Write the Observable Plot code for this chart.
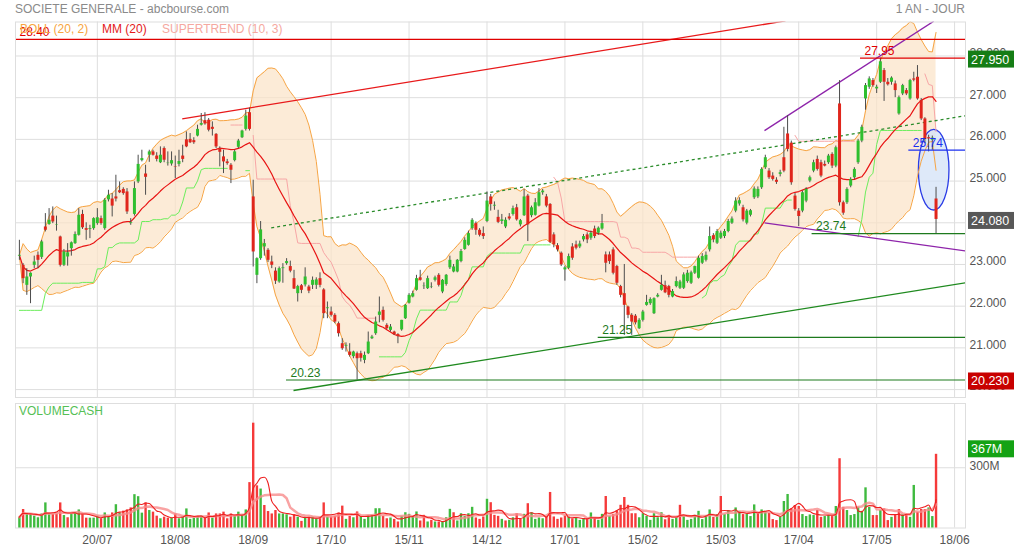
<!DOCTYPE html>
<html><head><meta charset="utf-8">
<script src="https://cdn.jsdelivr.net/npm/d3@7"></script>
<script src="https://cdn.jsdelivr.net/npm/@observablehq/plot@0.6"></script>
<style>
body{margin:0;background:#fff;font-family:"Liberation Sans",Arial,sans-serif;}
#wrap{position:relative;width:1014px;height:550px;overflow:hidden;background:#fff;}
.t{position:absolute;font-size:12px;white-space:nowrap;line-height:14px;}
</style></head><body>
<div id="wrap">
 <div id="price" style="position:absolute;left:0;top:0"></div>
 <div id="vol" style="position:absolute;left:0;top:398px"></div>
 <div class="t" style="left:15px;top:2px;color:#8a8a8a">SOCIETE GENERALE - abcbourse.com</div>
 <div class="t" style="right:49px;top:2px;color:#8a8a8a">1 AN - JOUR</div>
 <div class="t" style="left:20px;top:22px;color:#f7a540">BOLL (20, 2)</div>
 <div class="t" style="left:102px;top:22px;color:#e41a1a">MM (20)</div>
 <div class="t" style="left:162px;top:22px;color:#f5a8a0">SUPERTREND (10, 3)</div>
 <div class="t" style="left:19px;top:404px;color:#55c055">VOLUMECASH</div>
</div>
<script>
// ---------- DATA ----------
const opens = [
23.20,22.98,22.50,22.70,22.98,23.22,23.17,23.90,23.96,24.16,
23.94,23.66,22.98,23.18,23.38,23.50,23.70,24.20,23.86,23.84,
23.86,23.98,24.10,23.86,24.55,24.57,24.62,24.77,24.80,24.74,
23.98,24.20,24.98,25.49,25.17,25.62,25.70,25.60,25.44,25.78,
25.42,25.41,25.34,25.40,25.60,25.99,26.00,25.97,26.08,26.34,
26.45,26.46,26.29,26.12,25.78,25.58,25.46,25.38,25.49,25.81,
26.04,26.24,26.64,24.62,22.74,23.14,23.42,23.34,23.06,22.84,
22.58,22.90,23.02,22.95,22.66,22.30,22.49,22.51,22.46,22.50,
22.50,22.66,22.39,21.94,21.86,21.78,21.58,21.10,21.04,20.90,
20.79,20.86,20.86,20.70,20.86,21.22,21.34,21.78,21.90,21.54,
21.42,21.38,21.32,21.43,21.70,22.07,22.22,22.38,22.68,22.47,
22.42,22.46,22.62,22.74,22.34,22.52,22.92,22.82,22.82,23.07,
23.36,23.46,23.86,23.98,23.82,23.74,24.03,24.62,24.40,24.13,
24.03,23.90,24.14,24.20,24.36,23.95,24.17,24.64,24.17,24.18,
24.40,24.72,24.62,24.44,23.71,23.45,23.27,22.87,22.91,23.42,
23.47,23.42,23.59,23.71,23.63,23.85,23.75,23.85,23.23,23.23,
23.35,22.95,22.47,22.30,21.98,21.78,21.76,21.46,21.66,22.02,
22.06,21.82,22.22,22.38,22.49,22.47,22.22,22.47,22.43,22.43,
22.59,22.55,22.79,22.67,23.03,23.10,23.35,23.69,23.51,23.63,
23.67,23.79,23.99,24.28,24.45,24.36,23.99,24.18,24.60,24.62,
24.84,25.32,25.24,25.12,25.02,25.16,25.56,26.13,25.91,24.64,
24.28,24.28,24.52,25.00,25.24,25.52,25.44,25.40,25.44,25.64,
25.36,26.85,24.48,24.48,24.88,25.08,25.44,25.96,26.97,27.25,
27.41,27.21,27.37,27.65,27.37,27.37,27.33,26.61,27.09,27.17,
26.97,27.45,27.49,26.93,26.49,26.04,25.98,24.57];
const highs = [
23.58,23.02,22.90,22.80,23.20,23.30,23.58,24.22,24.34,24.38,
24.16,23.68,23.36,23.50,23.54,23.78,24.34,24.30,24.00,23.94,
24.12,24.34,24.16,24.58,24.78,24.70,25.14,24.98,24.84,24.82,
24.10,24.98,25.62,25.74,25.38,25.74,25.74,25.68,25.82,25.82,
25.70,25.70,25.60,25.74,25.86,26.18,26.14,26.04,26.34,26.62,
26.64,26.50,26.42,26.14,25.82,25.74,25.52,25.42,25.74,26.00,
26.22,26.70,26.75,25.02,23.16,24.03,23.60,23.38,23.20,22.92,
22.94,23.02,23.14,23.08,22.86,22.50,22.52,22.92,22.50,22.70,
22.68,22.80,22.42,22.10,21.98,21.82,21.62,21.22,21.12,21.10,
20.92,20.90,20.92,20.90,21.38,21.30,21.74,22.22,21.98,21.58,
21.56,21.40,21.34,21.66,22.04,22.30,22.36,22.74,22.86,22.56,
22.72,22.56,22.72,22.78,22.64,22.76,23.20,23.00,23.12,23.36,
23.64,23.80,24.10,24.02,23.86,23.90,24.74,24.68,24.50,24.30,
24.20,24.12,24.22,24.40,24.44,24.08,24.80,24.68,24.40,24.58,
24.82,24.80,24.68,24.46,23.76,23.50,23.30,22.96,23.25,23.50,
23.56,23.56,23.72,23.76,23.80,23.92,23.90,24.20,23.30,23.30,
23.40,22.98,22.50,23.00,22.00,21.82,21.80,21.70,21.90,22.26,
22.20,22.20,22.30,22.74,22.60,22.50,22.40,22.70,22.62,22.80,
22.86,22.84,22.96,23.20,23.26,23.30,23.90,23.74,23.84,23.80,
23.84,24.08,24.14,24.60,24.60,24.42,24.32,24.32,24.86,24.86,
25.32,25.62,25.30,25.20,25.08,25.26,26.29,26.57,25.96,24.70,
24.34,24.76,24.84,25.12,25.50,25.60,25.50,25.48,25.64,25.68,
25.84,27.41,24.52,24.84,25.08,25.32,26.00,26.34,27.34,27.50,
27.46,27.30,27.95,27.70,27.46,27.50,27.40,27.04,27.32,27.22,
27.44,27.61,27.77,26.98,26.52,26.10,26.08,24.85];
const lows = [
23.10,22.54,22.26,22.06,22.90,22.90,23.12,23.78,23.94,23.98,
23.80,22.94,22.95,22.96,23.20,23.48,23.68,23.84,23.58,23.62,
23.82,23.94,23.94,23.82,24.50,24.14,24.50,24.70,24.66,24.20,
23.94,24.16,24.94,25.46,24.66,25.45,25.60,25.46,25.42,25.44,
25.36,25.36,25.06,25.34,25.44,25.80,25.90,25.88,26.06,26.32,
26.34,26.18,26.08,25.78,25.34,25.18,25.38,24.94,25.46,25.78,
26.02,26.20,26.20,22.94,22.54,23.10,23.20,23.05,22.90,22.52,
22.55,22.55,22.98,22.80,22.40,22.10,22.30,22.46,22.30,22.40,
22.40,22.44,21.70,21.70,21.74,21.58,21.26,20.94,20.90,20.78,
20.74,20.23,20.66,20.62,20.84,21.20,21.30,21.60,21.62,21.44,
21.38,21.30,21.10,21.40,21.68,22.05,22.20,22.36,22.60,22.40,
22.40,22.42,22.58,22.46,22.30,22.48,22.88,22.80,22.80,23.04,
23.34,23.44,23.82,23.70,23.66,23.60,24.00,24.28,24.30,23.98,
23.96,23.86,24.05,24.16,24.04,23.90,24.15,23.55,24.12,24.16,
24.38,24.66,24.36,23.50,23.40,23.30,22.95,22.60,22.88,23.10,
23.35,23.38,23.54,23.50,23.58,23.62,23.70,23.82,22.80,23.00,
22.75,22.50,22.20,21.30,21.70,21.30,21.55,21.44,21.62,22.00,
22.02,21.80,22.20,22.36,22.30,22.20,22.20,22.44,22.40,22.40,
22.55,22.52,22.76,22.65,23.00,23.06,23.30,23.52,23.48,23.60,
23.62,23.76,23.96,24.24,24.40,24.02,23.95,24.14,24.56,24.58,
24.80,25.28,25.04,25.00,24.92,25.10,25.20,25.70,24.90,24.28,
23.91,24.24,24.48,24.96,25.20,25.24,25.08,25.34,25.40,25.30,
25.32,24.40,24.18,24.44,24.84,25.04,25.40,25.92,26.70,27.20,
27.25,27.10,27.34,26.91,27.28,27.30,27.00,26.58,27.05,27.05,
26.94,27.38,26.94,26.45,25.90,25.70,25.74,23.74];
const closes = [
23.22,22.66,22.70,22.79,23.06,23.10,23.54,23.82,24.06,24.02,
23.95,22.98,23.30,23.28,23.52,23.72,24.18,23.88,23.82,23.86,
24.10,24.12,23.98,24.54,24.66,24.40,24.57,24.72,24.70,24.26,
24.00,24.82,25.40,25.54,25.09,25.70,25.62,25.52,25.62,25.50,
25.43,25.49,25.33,25.47,25.52,25.82,25.92,25.92,26.24,26.38,
26.37,26.22,26.24,25.82,25.69,25.46,25.42,25.26,25.70,25.96,
26.20,26.56,26.24,23.30,23.14,23.83,23.50,23.10,22.98,22.60,
22.90,22.92,23.07,22.84,22.41,22.47,22.38,22.70,22.36,22.62,
22.63,22.50,21.82,21.96,21.78,21.62,21.34,20.98,21.06,20.82,
20.90,20.74,20.75,20.82,21.14,21.26,21.62,21.86,21.66,21.46,
21.50,21.32,21.27,21.66,22.02,22.26,22.30,22.66,22.62,22.48,
22.66,22.47,22.68,22.50,22.62,22.74,23.10,22.94,23.10,23.31,
23.58,23.74,24.06,23.82,23.70,23.67,24.52,24.44,24.42,24.01,
24.07,24.06,24.09,24.34,24.07,24.05,24.62,23.95,24.36,24.48,
24.72,24.76,24.40,23.53,23.47,23.35,22.99,22.92,23.19,23.15,
23.39,23.49,23.67,23.59,23.75,23.67,23.87,23.98,23.03,23.07,
22.79,22.55,22.26,22.02,21.78,21.62,21.60,21.66,21.86,22.09,
22.16,22.18,22.26,22.50,22.32,22.26,22.35,22.59,22.58,22.75,
22.79,22.80,22.95,23.15,23.19,23.22,23.67,23.59,23.79,23.75,
23.79,24.03,24.09,24.52,24.53,24.07,24.28,24.29,24.81,24.80,
25.28,25.56,25.08,25.04,24.97,25.20,25.24,25.76,24.96,24.32,
24.15,24.72,24.80,25.08,25.44,25.28,25.12,25.36,25.60,25.36,
25.80,24.48,24.23,24.80,25.04,25.28,25.96,26.29,27.29,27.45,
27.29,27.25,27.86,27.37,27.31,27.47,27.17,27.00,27.29,27.09,
27.41,27.42,26.97,26.49,26.00,26.01,26.03,24.08];
// cash volume, millions
const volumes = [
54,92,70,66,59,51,70,125,66,67,
70,125,62,51,67,75,90,67,49,49,
49,59,46,75,54,75,116,75,84,90,
100,166,156,74,125,87,79,59,46,54,
49,49,70,46,54,95,43,49,54,59,
49,75,49,70,70,79,46,70,57,79,
66,90,226,522,210,194,112,82,70,87,
70,70,66,54,66,54,33,54,54,54,
46,49,125,54,55,58,75,109,43,58,
51,80,55,43,60,63,96,96,58,46,
50,43,30,58,76,68,55,80,35,63,
30,38,30,30,30,51,93,76,35,71,
58,71,103,50,43,55,143,126,63,58,
43,35,38,51,71,43,68,121,76,43,
50,46,55,177,55,43,50,60,55,46,
51,38,46,46,75,46,38,68,157,58,
68,85,113,152,113,71,71,51,71,58,
38,71,51,76,41,63,43,51,113,58,
38,43,63,83,42,62,90,53,67,157,
67,87,45,100,83,67,67,57,115,73,
90,83,73,42,37,53,132,167,95,112,
107,67,57,65,62,87,53,57,62,57,
107,345,103,87,62,67,103,83,200,103,
62,62,87,95,37,53,62,92,67,67,
53,212,78,92,92,100,57,367];

const dateLabels = ["20/07","18/08","18/09","17/10","15/11","14/12","17/01","15/02","15/03","17/04","17/05","18/06"];
const dateTickBars = [21,42,63,84,105,126,147,168,189,210,231,252];
const priceTicks = [20,21,22,23,24,25,26,27,28];
// 24.000 sits fully under the last-price box in the reference, so it is not labelled
const priceTickLabels = [20,21,22,23,25,26,27,28];
const volumeTicks = [300];

// drawn annotations (bar index / price units)
const levels = [
  {price: 28.40, from: -1.05, label: "28.40", kind: "red"},
  {price: 27.95, from: 226.65, label: "27.95", kind: "red"},
  {price: 25.74, from: 239.67, label: "25.74", kind: "blue"},
  {price: 23.74, from: 213.6, label: "23.74", kind: "green"},
  {price: 21.25, from: 155.97, label: "21.25", kind: "green"},
  {price: 20.23, from: 71.97, label: "20.23", kind: "green"}
];
const trendLines = [
  {x1: 43.87, y1: 26.494, x2: 206.44, y2: 28.84, kind: "red"},
  {x1: 67.85, y1: 23.88, x2: 254.94, y2: 26.566, kind: "dotted"},
  {x1: 73.86, y1: 19.978, x2: 254.94, y2: 22.561, kind: "green"},
  {x1: 200.78, y1: 26.211, x2: 246.4, y2: 28.835, kind: "purple"},
  {x1: 200.78, y1: 24.0, x2: 254.94, y2: 23.324, kind: "purple"}
];
const ellipseNote = {bar: 246.5, price: 25.26, rBars: 4.12, rPrice: 0.966};
const priceBoxes = [
  {value: 27.95, kind: "high"},
  {value: closes[closes.length - 1], kind: "last"},
  {value: 20.23, kind: "low"}
];

// ---------- styles ----------
const FONT = "'Liberation Sans', Arial, sans-serif";
const GRID = "#dedede";
const UP = "#2fbf2f", DOWN = "#e0261c";
const VUP = "#3fba3f", VDOWN = "#f53a3a";
const LEVEL_COLORS = {red: "#e00000", blue: "#1c30f0", green: "#1d7a1d"};
const TREND_STYLE = {
  red: {stroke: "#e8191a", strokeWidth: 1.3},
  dotted: {stroke: "#2b8c2b", strokeWidth: 1.3, strokeDasharray: "3,3"},
  green: {stroke: "#1f8a1f", strokeWidth: 1.3},
  purple: {stroke: "#8e24aa", strokeWidth: 1.3}
};
const BOX_COLORS = {high: "#157d15", last: "#585858", low: "#c80000"};

// ---------- derived series (indicators) ----------
const N = closes.length;
const bars = d3.range(N).map(i => ({
  i, o: opens[i], h: highs[i], l: lows[i], c: closes[i], v: volumes[i],
  volUp: i === 0 ? closes[i] >= opens[i] : closes[i] >= closes[i - 1]
}));
const windowOf = (arr, i, n) => arr.slice(Math.max(0, i - n + 1), i + 1);
const boll = bars.map(({i}) => {
  const w = windowOf(closes, i, 20);
  const m = d3.mean(w);
  const sd = Math.sqrt(d3.mean(w, x => (x - m) ** 2));
  return {i, m, up: m + 2 * sd, lo: m - 2 * sd};
});
// Supertrend (10, 3)
const tr = bars.map(({i}) => i === 0 ? highs[0] - lows[0] :
  Math.max(highs[i] - lows[i], Math.abs(highs[i] - closes[i - 1]), Math.abs(lows[i] - closes[i - 1])));
const st = [];
{
  let fu, fl, up = true, run = 0;
  for (let i = 0; i < N; i++) {
    const atr = d3.mean(windowOf(tr, i, 10));
    const hl2 = (highs[i] + lows[i]) / 2;
    const bu = hl2 + 3 * atr, bl = hl2 - 3 * atr;
    if (i === 0) { fu = bu; fl = bl; }
    else {
      fu = (bu < fu || closes[i - 1] > fu) ? bu : fu;
      fl = (bl > fl || closes[i - 1] < fl) ? bl : fl;
    }
    const prev = up;
    if (up && closes[i] < fl) up = false;
    else if (!up && closes[i] > fu) up = true;
    if (prev !== up) run++;
    st.push({i, v: up ? fl : fu, up, run});
  }
}
const volMA5 = bars.map(({i}) => ({i, v: d3.mean(windowOf(volumes, i, 5))}));
const volMA10 = bars.map(({i}) => ({i, v: d3.mean(windowOf(volumes, i, 10))}));

const xDomain = [-1.05, 254.94];
const labelOf = new Map(dateTickBars.map((b, k) => [b, dateLabels[k]]));

function ellipseMark(index, scales) {
  const e = ellipseNote;
  const cx = scales.x(e.bar), cy = scales.y(e.price);
  const rx = Math.abs(scales.x(e.bar + e.rBars) - cx);
  const ry = Math.abs(scales.y(e.price + e.rPrice) - cy);
  return d3.create("svg:ellipse").attr("cx", cx).attr("cy", cy).attr("rx", rx).attr("ry", ry)
    .attr("fill", "#d3e2f7").attr("fill-opacity", 0.75)
    .attr("stroke", "#2a3ce6").attr("stroke-width", 1.3).node();
}
function boxesMark(boxes, fmt, colorOf, offset) {
  return (index, scales, values, dims) => {
    const g = d3.create("svg:g");
    const x0 = dims.width - dims.marginRight + 3;
    for (const b of boxes) {
      const cy = scales.y(b.value) + offset;
      g.append("rect").attr("x", x0).attr("y", cy - 8.5).attr("width", dims.width - x0).attr("height", 17)
        .attr("fill", colorOf(b));
      g.append("text").attr("x", x0 + 3).attr("y", cy).attr("dy", "0.36em").attr("fill", "#fff")
        .attr("text-anchor", "start").attr("font-size", 12.5).attr("font-family", FONT).text(fmt(b.value));
    }
    return g.node();
  };
}

const levelMarks = Object.keys(LEVEL_COLORS).flatMap(k => {
  const data = levels.filter(d => d.kind === k);
  return [
    Plot.ruleY(data, {y: "price", x1: "from", x2: xDomain[1], stroke: LEVEL_COLORS[k], strokeWidth: 1.2}),
    Plot.text(data, {x: "from", y: "price", text: "label", textAnchor: "start", dx: 4, dy: -7,
      fill: LEVEL_COLORS[k], fontSize: 12})
  ];
});
const trendMarks = Object.keys(TREND_STYLE).map(k =>
  Plot.link(trendLines.filter(d => d.kind === k), {x1: "x1", y1: "y1", x2: "x2", y2: "y2", clip: true, ...TREND_STYLE[k]}));

const priceChart = Plot.plot({
  width: 1014, height: 398, marginTop: 21.5, marginBottom: 1, marginLeft: 15, marginRight: 49,
  style: {background: "transparent", fontFamily: FONT, fontSize: "12px", overflow: "visible"},
  x: {domain: xDomain, axis: null, label: null},
  y: {domain: [19.81, 28.815], axis: null, label: null},
  marks: [
    Plot.gridX(dateTickBars, {stroke: GRID, strokeOpacity: 1}),
    Plot.gridY(priceTicks, {stroke: GRID, strokeOpacity: 1}),
    Plot.areaY(boll, {x: "i", y1: "lo", y2: "up", fill: "#fbe2c6", fillOpacity: 0.7, clip: true}),
    ellipseMark,
    Plot.line(boll, {x: "i", y: "up", stroke: "#f6a443", strokeWidth: 1, clip: true}),
    Plot.line(boll, {x: "i", y: "lo", stroke: "#f6a443", strokeWidth: 1, clip: true}),
    Plot.line(st.filter(d => d.up), {x: "i", y: "v", z: "run", stroke: "#6ced5c", strokeWidth: 1, clip: true}),
    Plot.line(st.filter(d => !d.up), {x: "i", y: "v", z: "run", stroke: "#f7a6a6", strokeWidth: 1, clip: true}),
    Plot.line(boll, {x: "i", y: "m", stroke: "#e81414", strokeWidth: 1.2, clip: true}),
    ...trendMarks,
    Plot.ruleX(bars, {x: "i", y1: "l", y2: "h", stroke: "#4d4d4d", strokeWidth: 1}),
    Plot.ruleX(bars.filter(d => d.c >= d.o), {x: "i", y1: "o", y2: "c", stroke: UP, strokeWidth: 3}),
    Plot.ruleX(bars.filter(d => d.c < d.o), {x: "i", y1: "o", y2: "c", stroke: DOWN, strokeWidth: 3}),
    ...levelMarks,
    Plot.frame({stroke: GRID}),
    Plot.axisY(priceTickLabels, {anchor: "right", tickSize: 0, tickPadding: 4, tickFormat: d3.format(".3f"),
      color: "#555", fontSize: 12, dy: -3, label: null}),
    boxesMark(priceBoxes, d3.format(".3f"), b => BOX_COLORS[b.kind], 1.5)
  ]
});
document.getElementById("price").append(priceChart);

const volChart = Plot.plot({
  width: 1014, height: 152, marginTop: 5, marginBottom: 22.5, marginLeft: 15, marginRight: 49,
  style: {background: "transparent", fontFamily: FONT, fontSize: "12px", overflow: "visible"},
  x: {domain: xDomain, axis: null, label: null},
  y: {domain: [0, 620], axis: null, label: null},
  marks: [
    Plot.gridX(dateTickBars, {stroke: GRID, strokeOpacity: 1}),
    Plot.gridY(volumeTicks, {stroke: GRID, strokeOpacity: 1}),
    Plot.frame({stroke: GRID}),
    Plot.ruleX(bars.filter(d => d.volUp), {x: "i", y1: 0, y2: "v", stroke: VUP, strokeWidth: 2.4}),
    Plot.ruleX(bars.filter(d => !d.volUp), {x: "i", y1: 0, y2: "v", stroke: VDOWN, strokeWidth: 2.4}),
    Plot.line(volMA10, {x: "i", y: "v", stroke: "#f78c8c", strokeWidth: 2.5, strokeOpacity: 0.8}),
    Plot.line(volMA5, {x: "i", y: "v", stroke: "#ee1f1f", strokeWidth: 1.1, curve: "monotone-x"}),
    Plot.axisX(dateTickBars, {anchor: "bottom", tickSize: 0, tickPadding: 7, tickFormat: d => labelOf.get(d),
      color: "#555", fontSize: 12, label: null}),
    Plot.axisY(volumeTicks, {anchor: "right", tickSize: 0, tickPadding: 4, tickFormat: d => d + "M",
      color: "#555", fontSize: 12, dy: -2, label: null}),
    boxesMark([{value: volumes[N - 1]}], d => d + "M", () => "#14a214", -5)
  ]
});
document.getElementById("vol").append(volChart);
</script>
</body></html>
